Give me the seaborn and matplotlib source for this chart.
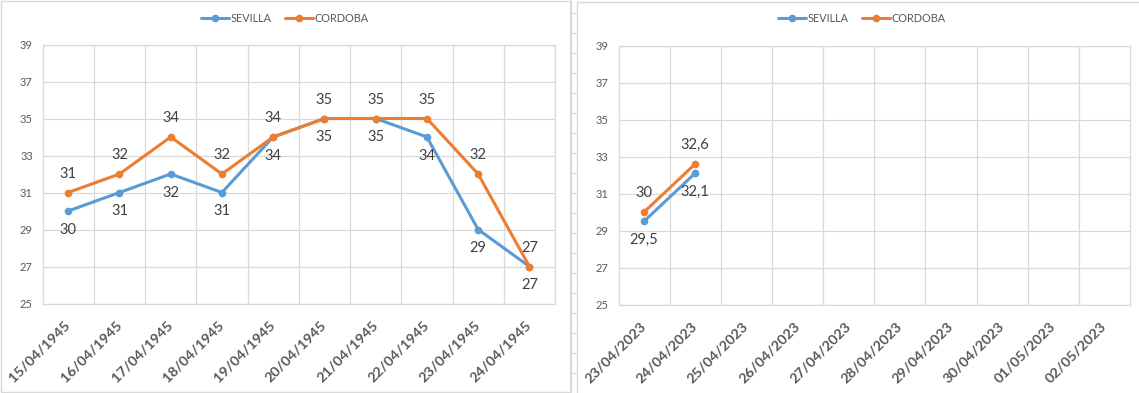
import matplotlib
matplotlib.use("Agg")
import matplotlib.pyplot as plt
from matplotlib.lines import Line2D
from matplotlib.patches import Rectangle
import seaborn as sns
import pandas as pd
import numpy as np

# ---------------- data ----------------
dates_1945 = ["15/04/1945", "16/04/1945", "17/04/1945", "18/04/1945", "19/04/1945",
              "20/04/1945", "21/04/1945", "22/04/1945", "23/04/1945", "24/04/1945"]
sevilla_1945 = [30, 31, 32, 31, 34, 35, 35, 34, 29, 27]
cordoba_1945 = [31, 32, 34, 32, 34, 35, 35, 35, 32, 27]

dates_2023 = ["23/04/2023", "24/04/2023", "25/04/2023", "26/04/2023", "27/04/2023",
              "28/04/2023", "29/04/2023", "30/04/2023", "01/05/2023", "02/05/2023"]
sevilla_2023 = [29.5, 32.1]
cordoba_2023 = [30, 32.6]

series_names = ["SEVILLA", "CORDOBA"]
y_ticks = [25, 27, 29, 31, 33, 35, 37, 39]

# ---------------- style ----------------
sns.set_theme(style="white")
plt.rcParams["font.family"] = ["Lato", "DejaVu Sans"]

C_SEV = "#5B9BD5"
C_COR = "#ED7D31"
GRID = "#D9D9D9"
TXT = "#595959"
LBL = "#404040"
palette = {"SEVILLA": C_SEV, "CORDOBA": C_COR}

W, H = 1139, 393
fig = plt.figure(figsize=(W / 100, H / 100), dpi=100)
fig.patch.set_facecolor("white")


def rect(x0, x1, ytop, ybot):
    return [x0 / W, 1 - ybot / H, (x1 - x0) / W, (ybot - ytop) / H]


def fmt(v):
    if float(v).is_integer():
        return str(int(v))
    return f"{v}".replace(".", ",")


def build_df(cats, sev, cor):
    rows = []
    for name, vals in (("SEVILLA", sev), ("CORDOBA", cor)):
        for i, v in enumerate(vals):
            rows.append({"pos": i, "date": cats[i], "serie": name, "temp": v})
    return pd.DataFrame(rows)


def draw_chart(ax, cats, sev, cor):
    df = build_df(cats, sev, cor)
    sns.lineplot(data=df, x="pos", y="temp", hue="serie", hue_order=series_names,
                 palette=palette, marker="o", markersize=5.5, markeredgewidth=0,
                 linewidth=2.2, legend=False, ax=ax, zorder=3)
    n = len(cats)
    ax.set_xlim(-0.5, n - 0.5)
    ax.set_ylim(y_ticks[0], y_ticks[-1])
    ax.set_yticks(y_ticks)
    ax.set_xticks(range(n))
    ax.set_xticks(np.arange(-0.5, n, 1.0), minor=True)
    ax.set_xticklabels(cats, rotation=45, ha="right", va="center",
                       rotation_mode="anchor", fontsize=10.4,
                       fontweight="bold", color=TXT)
    ax.set_yticklabels([str(t) for t in y_ticks], fontsize=8, color=TXT)
    ax.tick_params(axis="x", which="both", length=0, pad=14)
    ax.tick_params(axis="y", length=0, pad=7)
    ax.grid(False)
    ax.grid(True, axis="y", which="major", color=GRID, linewidth=0.9)
    ax.grid(True, axis="x", which="minor", color=GRID, linewidth=0.9)
    for s in ax.spines.values():
        s.set_color(GRID)
        s.set_linewidth(0.9)
    ax.set_xlabel("")
    ax.set_ylabel("")
    # data labels
    for vals, sign in ((cor, 1), (sev, -1)):
        for i, v in enumerate(vals):
            ax.annotate(fmt(v), (i, v), xytext=(0, sign * 13.5),
                        textcoords="offset points", ha="center", va="center",
                        fontsize=10.5, color=LBL, zorder=4)


ax1 = fig.add_axes(rect(42.6, 555, 44.5, 303.5))
draw_chart(ax1, dates_1945, sevilla_1945, cordoba_1945)

ax2 = fig.add_axes(rect(618.5, 1130, 45.5, 304.5))
draw_chart(ax2, dates_2023, sevilla_2023, cordoba_2023)

# chart frames
fig.add_artist(Rectangle((0.5 / W, 1 - 391.5 / H), 570 / W, 391 / H,
                         transform=fig.transFigure, fill=False,
                         edgecolor=GRID, linewidth=1))
fig.add_artist(Line2D([576.5 / W, 576.5 / W], [0, 1 - 1.5 / H],
                      transform=fig.transFigure, color=GRID, linewidth=1))
fig.add_artist(Line2D([576.5 / W, 1], [1 - 1.5 / H, 1 - 1.5 / H],
                      transform=fig.transFigure, color=GRID, linewidth=1))
# spreadsheet cells between the charts
fig.add_artist(Line2D([569.5 / W, 569.5 / W], [0, 1],
                      transform=fig.transFigure, color=GRID, linewidth=0.8))
for yy in np.arange(12.7, H, 20.0):
    fig.add_artist(Line2D([569.5 / W, 576.5 / W], [1 - yy / H, 1 - yy / H],
                          transform=fig.transFigure, color=GRID, linewidth=0.8))

# legends
handles = [Line2D([], [], color=palette[s], marker="o", markersize=5.5,
                  markeredgewidth=0, linewidth=2.2) for s in series_names]
for cx in (285, 862):
    fig.legend(handles, series_names, loc="center", bbox_to_anchor=(cx / W, 1 - 18 / H),
               ncol=2, frameon=False, fontsize=7.8, handlelength=2.6,
               handletextpad=0.15, columnspacing=1.2,
               labelcolor=TXT)

fig.savefig("out.png", dpi=100, facecolor="white")
